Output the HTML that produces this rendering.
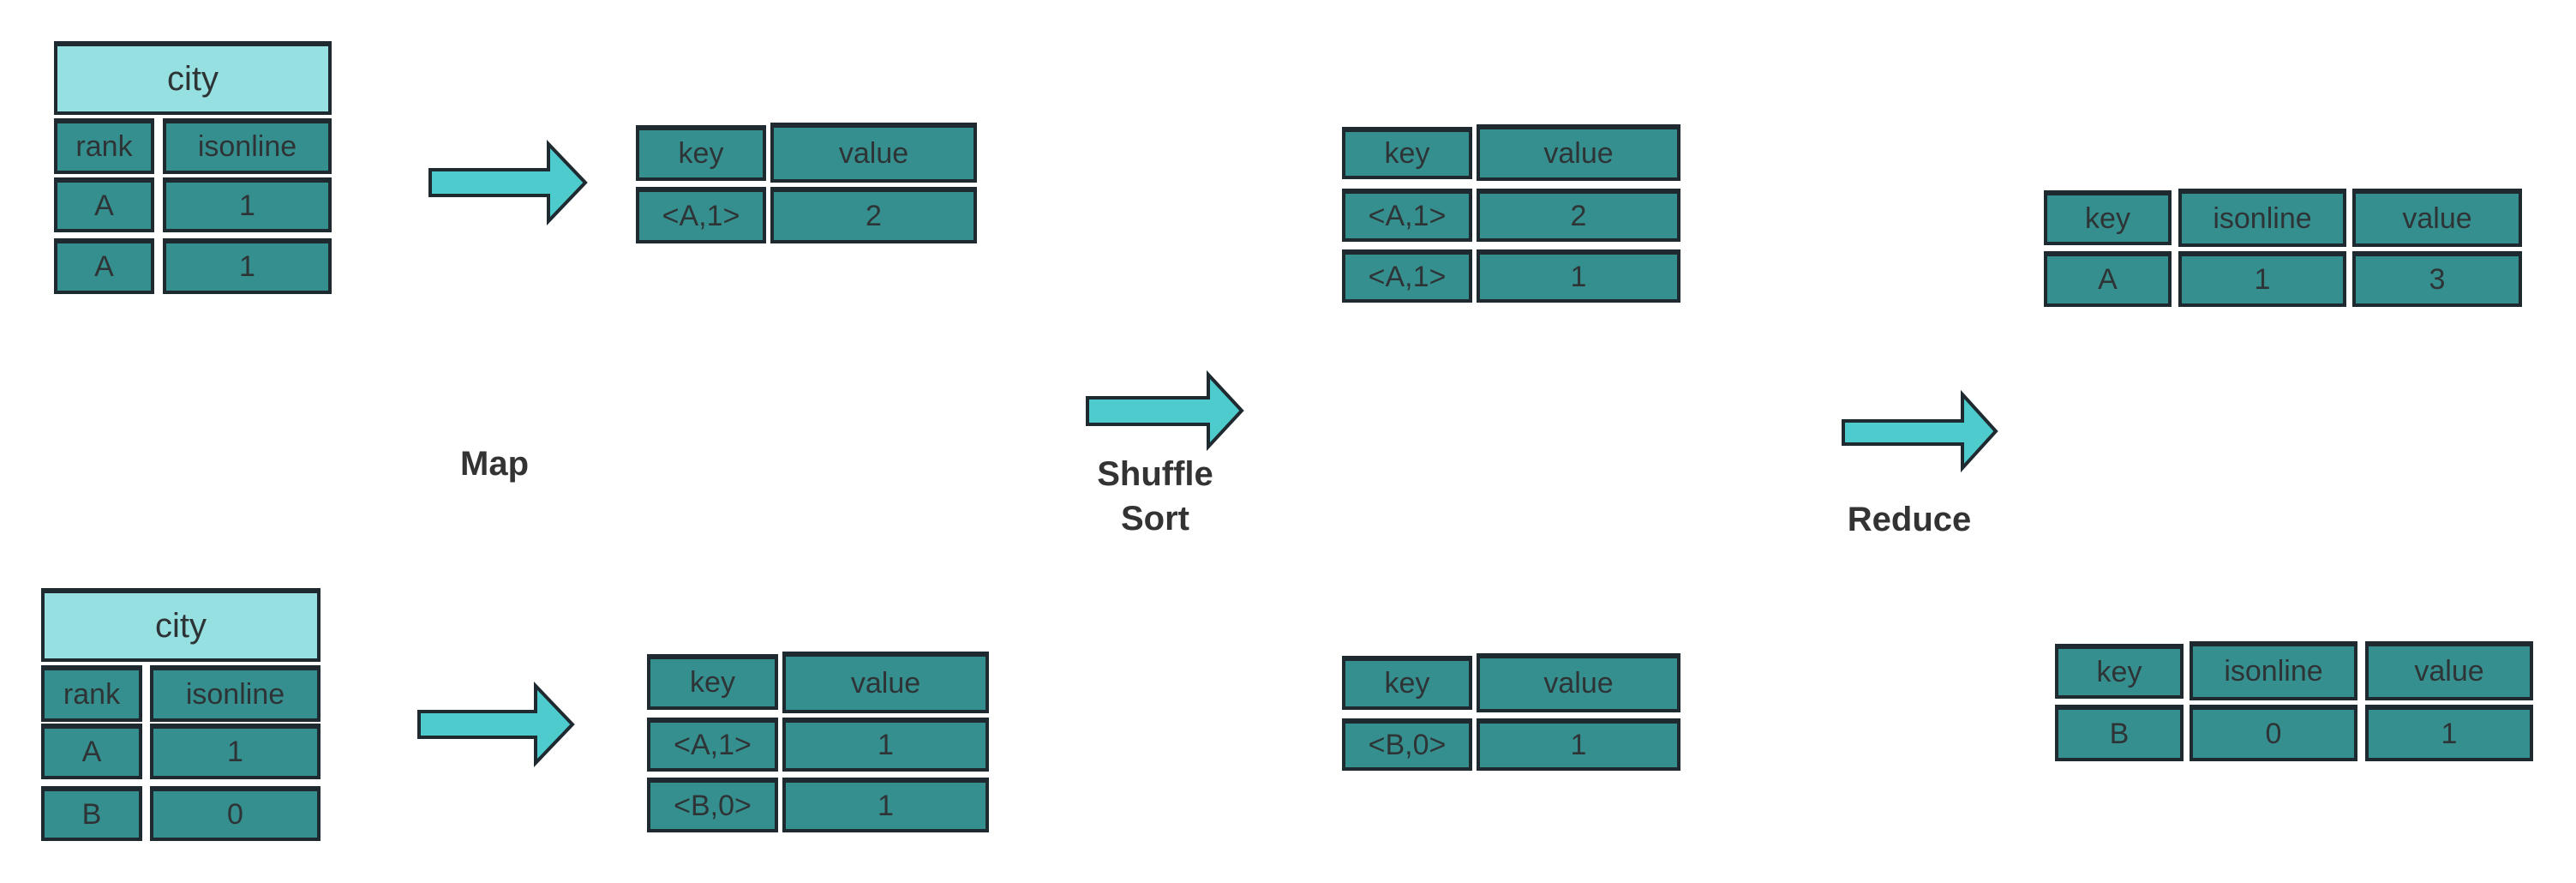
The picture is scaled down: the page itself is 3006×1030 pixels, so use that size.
<!DOCTYPE html>
<html><head><meta charset="utf-8"><style>
body{margin:0;width:3006px;height:1030px;background:#fff;position:relative;overflow:hidden;font-family:"Liberation Sans",sans-serif}
.c{position:absolute;box-sizing:border-box;background:#368f8f;border:4px solid #1f2a30;border-top-width:6px;color:#2e3436;font-size:34px;display:flex;align-items:center;justify-content:center}
.h{background:#96e0e1;font-size:40px}
.l{position:absolute;font-weight:bold;font-size:40px;color:#333;text-align:center;transform:translate(-50%,-50%);line-height:52px}
svg{position:absolute;left:0;top:0}
</style></head><body>
<svg width="3006" height="1030">
<polygon points="502,198 640,198 640,168 683,213 640,258 640,228 502,228" fill="#4ecbcd" stroke="#1f2a30" stroke-width="4"/>
<polygon points="489,830 625,830 625,800 668,845 625,890 625,860 489,860" fill="#4ecbcd" stroke="#1f2a30" stroke-width="4"/>
<polygon points="1269,464 1410,464 1410,437 1449,479 1410,521 1410,495 1269,495" fill="#4ecbcd" stroke="#1f2a30" stroke-width="4"/>
<polygon points="2151,491 2290,491 2290,460 2329,503 2290,546 2290,518 2151,518" fill="#4ecbcd" stroke="#1f2a30" stroke-width="4"/>
</svg>
<div class="c h" style="left:63px;top:48px;width:324px;height:86px">city</div>
<div class="c" style="left:63px;top:138px;width:117px;height:65px">rank</div>
<div class="c" style="left:190px;top:138px;width:197px;height:65px">isonline</div>
<div class="c" style="left:63px;top:207px;width:117px;height:64px">A</div>
<div class="c" style="left:190px;top:207px;width:197px;height:64px">1</div>
<div class="c" style="left:63px;top:278px;width:117px;height:65px">A</div>
<div class="c" style="left:190px;top:278px;width:197px;height:65px">1</div>
<div class="c h" style="left:48px;top:686px;width:326px;height:86px">city</div>
<div class="c" style="left:48px;top:776px;width:118px;height:66px">rank</div>
<div class="c" style="left:175px;top:776px;width:199px;height:66px">isonline</div>
<div class="c" style="left:48px;top:844px;width:118px;height:65px">A</div>
<div class="c" style="left:175px;top:844px;width:199px;height:65px">1</div>
<div class="c" style="left:48px;top:917px;width:118px;height:64px">B</div>
<div class="c" style="left:175px;top:917px;width:199px;height:64px">0</div>
<div class="c" style="left:742px;top:146px;width:152px;height:65px">key</div>
<div class="c" style="left:899px;top:143px;width:241px;height:70px">value</div>
<div class="c" style="left:742px;top:218px;width:152px;height:66px">&lt;A,1&gt;</div>
<div class="c" style="left:899px;top:218px;width:241px;height:66px">2</div>
<div class="c" style="left:755px;top:763px;width:153px;height:65px">key</div>
<div class="c" style="left:913px;top:760px;width:241px;height:72px">value</div>
<div class="c" style="left:755px;top:837px;width:153px;height:63px">&lt;A,1&gt;</div>
<div class="c" style="left:913px;top:837px;width:241px;height:63px">1</div>
<div class="c" style="left:755px;top:907px;width:153px;height:64px">&lt;B,0&gt;</div>
<div class="c" style="left:913px;top:907px;width:241px;height:64px">1</div>
<div class="c" style="left:1566px;top:148px;width:152px;height:61px">key</div>
<div class="c" style="left:1723px;top:145px;width:238px;height:66px">value</div>
<div class="c" style="left:1566px;top:220px;width:152px;height:62px">&lt;A,1&gt;</div>
<div class="c" style="left:1723px;top:220px;width:238px;height:62px">2</div>
<div class="c" style="left:1566px;top:291px;width:152px;height:62px">&lt;A,1&gt;</div>
<div class="c" style="left:1723px;top:291px;width:238px;height:62px">1</div>
<div class="c" style="left:1566px;top:765px;width:152px;height:63px">key</div>
<div class="c" style="left:1723px;top:762px;width:238px;height:69px">value</div>
<div class="c" style="left:1566px;top:838px;width:152px;height:61px">&lt;B,0&gt;</div>
<div class="c" style="left:1723px;top:838px;width:238px;height:61px">1</div>
<div class="c" style="left:2385px;top:222px;width:149px;height:64px">key</div>
<div class="c" style="left:2542px;top:220px;width:196px;height:68px">isonline</div>
<div class="c" style="left:2745px;top:220px;width:198px;height:68px">value</div>
<div class="c" style="left:2385px;top:293px;width:149px;height:65px">A</div>
<div class="c" style="left:2542px;top:293px;width:196px;height:65px">1</div>
<div class="c" style="left:2745px;top:293px;width:198px;height:65px">3</div>
<div class="c" style="left:2398px;top:751px;width:150px;height:64px">key</div>
<div class="c" style="left:2555px;top:748px;width:196px;height:69px">isonline</div>
<div class="c" style="left:2760px;top:748px;width:196px;height:69px">value</div>
<div class="c" style="left:2398px;top:822px;width:150px;height:66px">B</div>
<div class="c" style="left:2555px;top:822px;width:196px;height:66px">0</div>
<div class="c" style="left:2760px;top:822px;width:196px;height:66px">1</div>
<div class="l" style="left:577px;top:541px">Map</div>
<div class="l" style="left:1348px;top:579px">Shuffle<br>Sort</div>
<div class="l" style="left:2228px;top:606px">Reduce</div>
</body></html>
